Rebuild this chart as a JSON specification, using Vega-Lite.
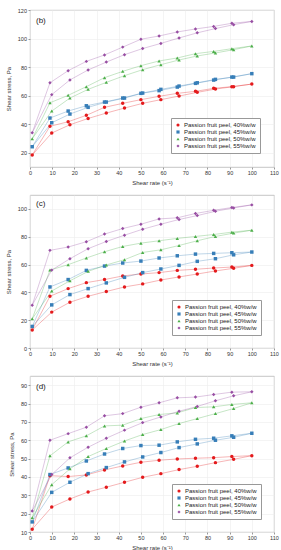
{
"$schema": "https://vega.github.io/schema/vega-lite/v6.json",
"padding": {"left": 4, "top": 7, "right": 8, "bottom": 0},
"spacing": 8,
"config": {
  "font": "Liberation Sans",
  "view": {"stroke": "#b8b8b8", "strokeWidth": 0.8},
  "axis": {"labelFontSize": 5.5, "titleFontSize": 6, "titleFontWeight": "normal", "tickSize": 2, "tickColor": "#999", "domain": false, "gridColor": "#ececec", "gridWidth": 0.6, "labelColor": "#333", "titleColor": "#333", "labelPadding": 1.5, "labelOverlap": false, "labelFlush": false},
  "axisY": {"titlePadding": 6},
  "axisX": {"titlePadding": 3},
  "legend": {"strokeColor": "#999", "fillColor": "white", "padding": 4, "symbolSize": 10, "labelFontSize": 6, "rowPadding": 1, "symbolStrokeWidth": 0, "labelColor": "#222", "labelOffset": 3}
},
"resolve": {"legend": {"color": "independent", "shape": "independent"}},
"datasets": {"flow": [
{"p":"b","s":"Passion fruit peel, 40%w/w","r":"u","x":1,"y":18.4},{"p":"b","s":"Passion fruit peel, 40%w/w","r":"u","x":9,"y":38.5},{"p":"b","s":"Passion fruit peel, 40%w/w","r":"u","x":17.2,"y":41.7},{"p":"b","s":"Passion fruit peel, 40%w/w","r":"u","x":25.4,"y":46.2},{"p":"b","s":"Passion fruit peel, 40%w/w","r":"u","x":33.6,"y":51.8},{"p":"b","s":"Passion fruit peel, 40%w/w","r":"u","x":41.8,"y":54.6},{"p":"b","s":"Passion fruit peel, 40%w/w","r":"u","x":50,"y":57.2},{"p":"b","s":"Passion fruit peel, 40%w/w","r":"u","x":58.2,"y":59.5},{"p":"b","s":"Passion fruit peel, 40%w/w","r":"u","x":66.4,"y":61.6},{"p":"b","s":"Passion fruit peel, 40%w/w","r":"u","x":74.6,"y":63},{"p":"b","s":"Passion fruit peel, 40%w/w","r":"u","x":82.8,"y":65.1},{"p":"b","s":"Passion fruit peel, 40%w/w","r":"u","x":91,"y":66.3},{"p":"b","s":"Passion fruit peel, 40%w/w","r":"u","x":100,"y":68.1},
{"p":"b","s":"Passion fruit peel, 40%w/w","r":"d","x":1,"y":18.4},{"p":"b","s":"Passion fruit peel, 40%w/w","r":"d","x":9.8,"y":33.8},{"p":"b","s":"Passion fruit peel, 40%w/w","r":"d","x":18,"y":39.6},{"p":"b","s":"Passion fruit peel, 40%w/w","r":"d","x":26.2,"y":44},{"p":"b","s":"Passion fruit peel, 40%w/w","r":"d","x":34.4,"y":47.8},{"p":"b","s":"Passion fruit peel, 40%w/w","r":"d","x":42.6,"y":51.3},{"p":"b","s":"Passion fruit peel, 40%w/w","r":"d","x":50.8,"y":54.6},{"p":"b","s":"Passion fruit peel, 40%w/w","r":"d","x":59,"y":57.2},{"p":"b","s":"Passion fruit peel, 40%w/w","r":"d","x":67.2,"y":59.7},{"p":"b","s":"Passion fruit peel, 40%w/w","r":"d","x":75.4,"y":62.3},{"p":"b","s":"Passion fruit peel, 40%w/w","r":"d","x":83.6,"y":64.6},{"p":"b","s":"Passion fruit peel, 40%w/w","r":"d","x":91.8,"y":66.3},{"p":"b","s":"Passion fruit peel, 40%w/w","r":"d","x":100,"y":68.1},
{"p":"b","s":"Passion fruit peel, 45%w/w","r":"u","x":1,"y":24.2},{"p":"b","s":"Passion fruit peel, 45%w/w","r":"u","x":9,"y":44.3},{"p":"b","s":"Passion fruit peel, 45%w/w","r":"u","x":17.2,"y":49.2},{"p":"b","s":"Passion fruit peel, 45%w/w","r":"u","x":25.4,"y":52.9},{"p":"b","s":"Passion fruit peel, 45%w/w","r":"u","x":33.6,"y":55.5},{"p":"b","s":"Passion fruit peel, 45%w/w","r":"u","x":41.8,"y":58.3},{"p":"b","s":"Passion fruit peel, 45%w/w","r":"u","x":50,"y":61.6},{"p":"b","s":"Passion fruit peel, 45%w/w","r":"u","x":58.2,"y":63.5},{"p":"b","s":"Passion fruit peel, 45%w/w","r":"u","x":66.4,"y":66},{"p":"b","s":"Passion fruit peel, 45%w/w","r":"u","x":74.6,"y":68.6},{"p":"b","s":"Passion fruit peel, 45%w/w","r":"u","x":82.8,"y":70.9},{"p":"b","s":"Passion fruit peel, 45%w/w","r":"u","x":91,"y":73},{"p":"b","s":"Passion fruit peel, 45%w/w","r":"u","x":100,"y":75.4},
{"p":"b","s":"Passion fruit peel, 45%w/w","r":"d","x":1,"y":24.2},{"p":"b","s":"Passion fruit peel, 45%w/w","r":"d","x":9.8,"y":41},{"p":"b","s":"Passion fruit peel, 45%w/w","r":"d","x":18,"y":47.1},{"p":"b","s":"Passion fruit peel, 45%w/w","r":"d","x":26.2,"y":51.8},{"p":"b","s":"Passion fruit peel, 45%w/w","r":"d","x":34.4,"y":55.5},{"p":"b","s":"Passion fruit peel, 45%w/w","r":"d","x":42.6,"y":58.3},{"p":"b","s":"Passion fruit peel, 45%w/w","r":"d","x":50.8,"y":61.8},{"p":"b","s":"Passion fruit peel, 45%w/w","r":"d","x":59,"y":64.4},{"p":"b","s":"Passion fruit peel, 45%w/w","r":"d","x":67.2,"y":66.7},{"p":"b","s":"Passion fruit peel, 45%w/w","r":"d","x":75.4,"y":69},{"p":"b","s":"Passion fruit peel, 45%w/w","r":"d","x":83.6,"y":71.4},{"p":"b","s":"Passion fruit peel, 45%w/w","r":"d","x":91.8,"y":73},{"p":"b","s":"Passion fruit peel, 45%w/w","r":"d","x":100,"y":75.4},
{"p":"b","s":"Passion fruit peel, 50%w/w","r":"u","x":1,"y":29.8},{"p":"b","s":"Passion fruit peel, 50%w/w","r":"u","x":9,"y":55},{"p":"b","s":"Passion fruit peel, 50%w/w","r":"u","x":17.2,"y":60.2},{"p":"b","s":"Passion fruit peel, 50%w/w","r":"u","x":25.4,"y":66.3},{"p":"b","s":"Passion fruit peel, 50%w/w","r":"u","x":33.6,"y":72.6},{"p":"b","s":"Passion fruit peel, 50%w/w","r":"u","x":41.8,"y":77},{"p":"b","s":"Passion fruit peel, 50%w/w","r":"u","x":50,"y":81},{"p":"b","s":"Passion fruit peel, 50%w/w","r":"u","x":58.2,"y":84.3},{"p":"b","s":"Passion fruit peel, 50%w/w","r":"u","x":66.4,"y":86.4},{"p":"b","s":"Passion fruit peel, 50%w/w","r":"u","x":74.6,"y":89.4},{"p":"b","s":"Passion fruit peel, 50%w/w","r":"u","x":82.8,"y":91},{"p":"b","s":"Passion fruit peel, 50%w/w","r":"u","x":91,"y":92.9},{"p":"b","s":"Passion fruit peel, 50%w/w","r":"u","x":100,"y":94.8},
{"p":"b","s":"Passion fruit peel, 50%w/w","r":"d","x":1,"y":29.8},{"p":"b","s":"Passion fruit peel, 50%w/w","r":"d","x":9.8,"y":49.2},{"p":"b","s":"Passion fruit peel, 50%w/w","r":"d","x":18,"y":58.3},{"p":"b","s":"Passion fruit peel, 50%w/w","r":"d","x":26.2,"y":64.4},{"p":"b","s":"Passion fruit peel, 50%w/w","r":"d","x":34.4,"y":69.3},{"p":"b","s":"Passion fruit peel, 50%w/w","r":"d","x":42.6,"y":74},{"p":"b","s":"Passion fruit peel, 50%w/w","r":"d","x":50.8,"y":78.2},{"p":"b","s":"Passion fruit peel, 50%w/w","r":"d","x":59,"y":81.7},{"p":"b","s":"Passion fruit peel, 50%w/w","r":"d","x":67.2,"y":85},{"p":"b","s":"Passion fruit peel, 50%w/w","r":"d","x":75.4,"y":87.8},{"p":"b","s":"Passion fruit peel, 50%w/w","r":"d","x":83.6,"y":89.9},{"p":"b","s":"Passion fruit peel, 50%w/w","r":"d","x":91.8,"y":92.2},{"p":"b","s":"Passion fruit peel, 50%w/w","r":"d","x":100,"y":94.8},
{"p":"b","s":"Passion fruit peel, 55%w/w","r":"u","x":1,"y":34},{"p":"b","s":"Passion fruit peel, 55%w/w","r":"u","x":9,"y":69},{"p":"b","s":"Passion fruit peel, 55%w/w","r":"u","x":17.2,"y":77.5},{"p":"b","s":"Passion fruit peel, 55%w/w","r":"u","x":25.4,"y":84},{"p":"b","s":"Passion fruit peel, 55%w/w","r":"u","x":33.6,"y":88.5},{"p":"b","s":"Passion fruit peel, 55%w/w","r":"u","x":41.8,"y":94},{"p":"b","s":"Passion fruit peel, 55%w/w","r":"u","x":50,"y":99.5},{"p":"b","s":"Passion fruit peel, 55%w/w","r":"u","x":58.2,"y":101.8},{"p":"b","s":"Passion fruit peel, 55%w/w","r":"u","x":66.4,"y":104.6},{"p":"b","s":"Passion fruit peel, 55%w/w","r":"u","x":74.6,"y":106.7},{"p":"b","s":"Passion fruit peel, 55%w/w","r":"u","x":82.8,"y":108.5},{"p":"b","s":"Passion fruit peel, 55%w/w","r":"u","x":91,"y":110.7},{"p":"b","s":"Passion fruit peel, 55%w/w","r":"u","x":100,"y":112},
{"p":"b","s":"Passion fruit peel, 55%w/w","r":"d","x":1,"y":34},{"p":"b","s":"Passion fruit peel, 55%w/w","r":"d","x":9.8,"y":60.7},{"p":"b","s":"Passion fruit peel, 55%w/w","r":"d","x":18,"y":71},{"p":"b","s":"Passion fruit peel, 55%w/w","r":"d","x":26.2,"y":78},{"p":"b","s":"Passion fruit peel, 55%w/w","r":"d","x":34.4,"y":83.5},{"p":"b","s":"Passion fruit peel, 55%w/w","r":"d","x":42.6,"y":88.7},{"p":"b","s":"Passion fruit peel, 55%w/w","r":"d","x":50.8,"y":93},{"p":"b","s":"Passion fruit peel, 55%w/w","r":"d","x":59,"y":96.6},{"p":"b","s":"Passion fruit peel, 55%w/w","r":"d","x":67.2,"y":100.4},{"p":"b","s":"Passion fruit peel, 55%w/w","r":"d","x":75.4,"y":104},{"p":"b","s":"Passion fruit peel, 55%w/w","r":"d","x":83.6,"y":107},{"p":"b","s":"Passion fruit peel, 55%w/w","r":"d","x":91.8,"y":109.7},{"p":"b","s":"Passion fruit peel, 55%w/w","r":"d","x":100,"y":112},

{"p":"c","s":"Passion fruit peel, 40%w/w","r":"u","x":1,"y":12.9},{"p":"c","s":"Passion fruit peel, 40%w/w","r":"u","x":9,"y":37.2},{"p":"c","s":"Passion fruit peel, 40%w/w","r":"u","x":17.2,"y":42.7},{"p":"c","s":"Passion fruit peel, 40%w/w","r":"u","x":25.4,"y":47},{"p":"c","s":"Passion fruit peel, 40%w/w","r":"u","x":33.6,"y":49.2},{"p":"c","s":"Passion fruit peel, 40%w/w","r":"u","x":41.8,"y":51.8},{"p":"c","s":"Passion fruit peel, 40%w/w","r":"u","x":50,"y":53.2},{"p":"c","s":"Passion fruit peel, 40%w/w","r":"u","x":58.2,"y":54.2},{"p":"c","s":"Passion fruit peel, 40%w/w","r":"u","x":66.4,"y":55.8},{"p":"c","s":"Passion fruit peel, 40%w/w","r":"u","x":74.6,"y":56.6},{"p":"c","s":"Passion fruit peel, 40%w/w","r":"u","x":82.8,"y":57.5},{"p":"c","s":"Passion fruit peel, 40%w/w","r":"u","x":91,"y":58.2},{"p":"c","s":"Passion fruit peel, 40%w/w","r":"u","x":100,"y":59.4},
{"p":"c","s":"Passion fruit peel, 40%w/w","r":"d","x":1,"y":12.9},{"p":"c","s":"Passion fruit peel, 40%w/w","r":"d","x":9.8,"y":25.8},{"p":"c","s":"Passion fruit peel, 40%w/w","r":"d","x":18,"y":32.9},{"p":"c","s":"Passion fruit peel, 40%w/w","r":"d","x":26.2,"y":37.2},{"p":"c","s":"Passion fruit peel, 40%w/w","r":"d","x":34.4,"y":40.6},{"p":"c","s":"Passion fruit peel, 40%w/w","r":"d","x":42.6,"y":43.9},{"p":"c","s":"Passion fruit peel, 40%w/w","r":"d","x":50.8,"y":46.1},{"p":"c","s":"Passion fruit peel, 40%w/w","r":"d","x":59,"y":48.9},{"p":"c","s":"Passion fruit peel, 40%w/w","r":"d","x":67.2,"y":51.1},{"p":"c","s":"Passion fruit peel, 40%w/w","r":"d","x":75.4,"y":53.2},{"p":"c","s":"Passion fruit peel, 40%w/w","r":"d","x":83.6,"y":55.4},{"p":"c","s":"Passion fruit peel, 40%w/w","r":"d","x":91.8,"y":57.3},{"p":"c","s":"Passion fruit peel, 40%w/w","r":"d","x":100,"y":59.4},
{"p":"c","s":"Passion fruit peel, 45%w/w","r":"u","x":1,"y":15.5},{"p":"c","s":"Passion fruit peel, 45%w/w","r":"u","x":9,"y":43.9},{"p":"c","s":"Passion fruit peel, 45%w/w","r":"u","x":17.2,"y":49.2},{"p":"c","s":"Passion fruit peel, 45%w/w","r":"u","x":25.4,"y":55.8},{"p":"c","s":"Passion fruit peel, 45%w/w","r":"u","x":33.6,"y":58.9},{"p":"c","s":"Passion fruit peel, 45%w/w","r":"u","x":41.8,"y":61.1},{"p":"c","s":"Passion fruit peel, 45%w/w","r":"u","x":50,"y":62.5},{"p":"c","s":"Passion fruit peel, 45%w/w","r":"u","x":58.2,"y":64.7},{"p":"c","s":"Passion fruit peel, 45%w/w","r":"u","x":66.4,"y":66.3},{"p":"c","s":"Passion fruit peel, 45%w/w","r":"u","x":74.6,"y":67.5},{"p":"c","s":"Passion fruit peel, 45%w/w","r":"u","x":82.8,"y":68},{"p":"c","s":"Passion fruit peel, 45%w/w","r":"u","x":91,"y":68.5},{"p":"c","s":"Passion fruit peel, 45%w/w","r":"u","x":100,"y":69},
{"p":"c","s":"Passion fruit peel, 45%w/w","r":"d","x":1,"y":15.5},{"p":"c","s":"Passion fruit peel, 45%w/w","r":"d","x":9.8,"y":31},{"p":"c","s":"Passion fruit peel, 45%w/w","r":"d","x":18,"y":38.4},{"p":"c","s":"Passion fruit peel, 45%w/w","r":"d","x":26.2,"y":42.7},{"p":"c","s":"Passion fruit peel, 45%w/w","r":"d","x":34.4,"y":46.8},{"p":"c","s":"Passion fruit peel, 45%w/w","r":"d","x":42.6,"y":50.8},{"p":"c","s":"Passion fruit peel, 45%w/w","r":"d","x":50.8,"y":54.2},{"p":"c","s":"Passion fruit peel, 45%w/w","r":"d","x":59,"y":56.8},{"p":"c","s":"Passion fruit peel, 45%w/w","r":"d","x":67.2,"y":59.4},{"p":"c","s":"Passion fruit peel, 45%w/w","r":"d","x":75.4,"y":62.3},{"p":"c","s":"Passion fruit peel, 45%w/w","r":"d","x":83.6,"y":64.2},{"p":"c","s":"Passion fruit peel, 45%w/w","r":"d","x":91.8,"y":67},{"p":"c","s":"Passion fruit peel, 45%w/w","r":"d","x":100,"y":69},
{"p":"c","s":"Passion fruit peel, 50%w/w","r":"u","x":1,"y":21},{"p":"c","s":"Passion fruit peel, 50%w/w","r":"u","x":9,"y":56},{"p":"c","s":"Passion fruit peel, 50%w/w","r":"u","x":17.2,"y":59.9},{"p":"c","s":"Passion fruit peel, 50%w/w","r":"u","x":25.4,"y":64.7},{"p":"c","s":"Passion fruit peel, 50%w/w","r":"u","x":33.6,"y":69.2},{"p":"c","s":"Passion fruit peel, 50%w/w","r":"u","x":41.8,"y":73},{"p":"c","s":"Passion fruit peel, 50%w/w","r":"u","x":50,"y":75.4},{"p":"c","s":"Passion fruit peel, 50%w/w","r":"u","x":58.2,"y":77.1},{"p":"c","s":"Passion fruit peel, 50%w/w","r":"u","x":66.4,"y":78.8},{"p":"c","s":"Passion fruit peel, 50%w/w","r":"u","x":74.6,"y":80.2},{"p":"c","s":"Passion fruit peel, 50%w/w","r":"u","x":82.8,"y":81.6},{"p":"c","s":"Passion fruit peel, 50%w/w","r":"u","x":91,"y":83.3},{"p":"c","s":"Passion fruit peel, 50%w/w","r":"u","x":100,"y":84.7},
{"p":"c","s":"Passion fruit peel, 50%w/w","r":"d","x":1,"y":21},{"p":"c","s":"Passion fruit peel, 50%w/w","r":"d","x":9.8,"y":41},{"p":"c","s":"Passion fruit peel, 50%w/w","r":"d","x":18,"y":48.3},{"p":"c","s":"Passion fruit peel, 50%w/w","r":"d","x":26.2,"y":55.1},{"p":"c","s":"Passion fruit peel, 50%w/w","r":"d","x":34.4,"y":59.7},{"p":"c","s":"Passion fruit peel, 50%w/w","r":"d","x":42.6,"y":63.5},{"p":"c","s":"Passion fruit peel, 50%w/w","r":"d","x":50.8,"y":68.7},{"p":"c","s":"Passion fruit peel, 50%w/w","r":"d","x":59,"y":70.6},{"p":"c","s":"Passion fruit peel, 50%w/w","r":"d","x":67.2,"y":73.7},{"p":"c","s":"Passion fruit peel, 50%w/w","r":"d","x":75.4,"y":77.1},{"p":"c","s":"Passion fruit peel, 50%w/w","r":"d","x":83.6,"y":80.2},{"p":"c","s":"Passion fruit peel, 50%w/w","r":"d","x":91.8,"y":82.6},{"p":"c","s":"Passion fruit peel, 50%w/w","r":"d","x":100,"y":84.7},
{"p":"c","s":"Passion fruit peel, 55%w/w","r":"u","x":1,"y":30.8},{"p":"c","s":"Passion fruit peel, 55%w/w","r":"u","x":9,"y":70.2},{"p":"c","s":"Passion fruit peel, 55%w/w","r":"u","x":17.2,"y":72.6},{"p":"c","s":"Passion fruit peel, 55%w/w","r":"u","x":25.4,"y":76.4},{"p":"c","s":"Passion fruit peel, 55%w/w","r":"u","x":33.6,"y":81.9},{"p":"c","s":"Passion fruit peel, 55%w/w","r":"u","x":41.8,"y":85.9},{"p":"c","s":"Passion fruit peel, 55%w/w","r":"u","x":50,"y":89},{"p":"c","s":"Passion fruit peel, 55%w/w","r":"u","x":58.2,"y":92.8},{"p":"c","s":"Passion fruit peel, 55%w/w","r":"u","x":66.4,"y":93.6},{"p":"c","s":"Passion fruit peel, 55%w/w","r":"u","x":74.6,"y":96.7},{"p":"c","s":"Passion fruit peel, 55%w/w","r":"u","x":82.8,"y":99},{"p":"c","s":"Passion fruit peel, 55%w/w","r":"u","x":91,"y":101},{"p":"c","s":"Passion fruit peel, 55%w/w","r":"u","x":100,"y":102.9},
{"p":"c","s":"Passion fruit peel, 55%w/w","r":"d","x":1,"y":30.8},{"p":"c","s":"Passion fruit peel, 55%w/w","r":"d","x":9.8,"y":56},{"p":"c","s":"Passion fruit peel, 55%w/w","r":"d","x":18,"y":64.2},{"p":"c","s":"Passion fruit peel, 55%w/w","r":"d","x":26.2,"y":71.4},{"p":"c","s":"Passion fruit peel, 55%w/w","r":"d","x":34.4,"y":76.6},{"p":"c","s":"Passion fruit peel, 55%w/w","r":"d","x":42.6,"y":81.1},{"p":"c","s":"Passion fruit peel, 55%w/w","r":"d","x":50.8,"y":85.4},{"p":"c","s":"Passion fruit peel, 55%w/w","r":"d","x":59,"y":89},{"p":"c","s":"Passion fruit peel, 55%w/w","r":"d","x":67.2,"y":92.4},{"p":"c","s":"Passion fruit peel, 55%w/w","r":"d","x":75.4,"y":95.2},{"p":"c","s":"Passion fruit peel, 55%w/w","r":"d","x":83.6,"y":98.3},{"p":"c","s":"Passion fruit peel, 55%w/w","r":"d","x":91.8,"y":100.7},{"p":"c","s":"Passion fruit peel, 55%w/w","r":"d","x":100,"y":102.9},

{"p":"d","s":"Passion fruit peel, 40%w/w","r":"u","x":1,"y":11.5},{"p":"d","s":"Passion fruit peel, 40%w/w","r":"u","x":9,"y":40.7},{"p":"d","s":"Passion fruit peel, 40%w/w","r":"u","x":17.2,"y":40.2},{"p":"d","s":"Passion fruit peel, 40%w/w","r":"u","x":25.4,"y":41.1},{"p":"d","s":"Passion fruit peel, 40%w/w","r":"u","x":33.6,"y":43.8},{"p":"d","s":"Passion fruit peel, 40%w/w","r":"u","x":41.8,"y":46},{"p":"d","s":"Passion fruit peel, 40%w/w","r":"u","x":50,"y":48},{"p":"d","s":"Passion fruit peel, 40%w/w","r":"u","x":58.2,"y":49.1},{"p":"d","s":"Passion fruit peel, 40%w/w","r":"u","x":66.4,"y":49.8},{"p":"d","s":"Passion fruit peel, 40%w/w","r":"u","x":74.6,"y":50.2},{"p":"d","s":"Passion fruit peel, 40%w/w","r":"u","x":82.8,"y":50.5},{"p":"d","s":"Passion fruit peel, 40%w/w","r":"u","x":91,"y":51.1},{"p":"d","s":"Passion fruit peel, 40%w/w","r":"u","x":100,"y":51.6},
{"p":"d","s":"Passion fruit peel, 40%w/w","r":"d","x":1,"y":11.5},{"p":"d","s":"Passion fruit peel, 40%w/w","r":"d","x":9.8,"y":23.6},{"p":"d","s":"Passion fruit peel, 40%w/w","r":"d","x":18,"y":28},{"p":"d","s":"Passion fruit peel, 40%w/w","r":"d","x":26.2,"y":31.8},{"p":"d","s":"Passion fruit peel, 40%w/w","r":"d","x":34.4,"y":34.4},{"p":"d","s":"Passion fruit peel, 40%w/w","r":"d","x":42.6,"y":37.1},{"p":"d","s":"Passion fruit peel, 40%w/w","r":"d","x":50.8,"y":39.8},{"p":"d","s":"Passion fruit peel, 40%w/w","r":"d","x":59,"y":41.8},{"p":"d","s":"Passion fruit peel, 40%w/w","r":"d","x":67.2,"y":44},{"p":"d","s":"Passion fruit peel, 40%w/w","r":"d","x":75.4,"y":45.8},{"p":"d","s":"Passion fruit peel, 40%w/w","r":"d","x":83.6,"y":47.8},{"p":"d","s":"Passion fruit peel, 40%w/w","r":"d","x":91.8,"y":49.6},{"p":"d","s":"Passion fruit peel, 40%w/w","r":"d","x":100,"y":51.6},
{"p":"d","s":"Passion fruit peel, 45%w/w","r":"u","x":1,"y":15.5},{"p":"d","s":"Passion fruit peel, 45%w/w","r":"u","x":9,"y":41.3},{"p":"d","s":"Passion fruit peel, 45%w/w","r":"u","x":17.2,"y":44.9},{"p":"d","s":"Passion fruit peel, 45%w/w","r":"u","x":25.4,"y":48.7},{"p":"d","s":"Passion fruit peel, 45%w/w","r":"u","x":33.6,"y":52.5},{"p":"d","s":"Passion fruit peel, 45%w/w","r":"u","x":41.8,"y":55.5},{"p":"d","s":"Passion fruit peel, 45%w/w","r":"u","x":50,"y":57.1},{"p":"d","s":"Passion fruit peel, 45%w/w","r":"u","x":58.2,"y":57.3},{"p":"d","s":"Passion fruit peel, 45%w/w","r":"u","x":66.4,"y":59.1},{"p":"d","s":"Passion fruit peel, 45%w/w","r":"u","x":74.6,"y":60.5},{"p":"d","s":"Passion fruit peel, 45%w/w","r":"u","x":82.8,"y":61.1},{"p":"d","s":"Passion fruit peel, 45%w/w","r":"u","x":91,"y":62.4},{"p":"d","s":"Passion fruit peel, 45%w/w","r":"u","x":100,"y":63.8},
{"p":"d","s":"Passion fruit peel, 45%w/w","r":"d","x":1,"y":15.5},{"p":"d","s":"Passion fruit peel, 45%w/w","r":"d","x":9.8,"y":31.6},{"p":"d","s":"Passion fruit peel, 45%w/w","r":"d","x":18,"y":37.1},{"p":"d","s":"Passion fruit peel, 45%w/w","r":"d","x":26.2,"y":41.8},{"p":"d","s":"Passion fruit peel, 45%w/w","r":"d","x":34.4,"y":45.1},{"p":"d","s":"Passion fruit peel, 45%w/w","r":"d","x":42.6,"y":48.2},{"p":"d","s":"Passion fruit peel, 45%w/w","r":"d","x":50.8,"y":50.9},{"p":"d","s":"Passion fruit peel, 45%w/w","r":"d","x":59,"y":53.3},{"p":"d","s":"Passion fruit peel, 45%w/w","r":"d","x":67.2,"y":56},{"p":"d","s":"Passion fruit peel, 45%w/w","r":"d","x":75.4,"y":58},{"p":"d","s":"Passion fruit peel, 45%w/w","r":"d","x":83.6,"y":60},{"p":"d","s":"Passion fruit peel, 45%w/w","r":"d","x":91.8,"y":61.6},{"p":"d","s":"Passion fruit peel, 45%w/w","r":"d","x":100,"y":63.8},
{"p":"d","s":"Passion fruit peel, 50%w/w","r":"u","x":1,"y":17.8},{"p":"d","s":"Passion fruit peel, 50%w/w","r":"u","x":9,"y":51.5},{"p":"d","s":"Passion fruit peel, 50%w/w","r":"u","x":17.2,"y":59.1},{"p":"d","s":"Passion fruit peel, 50%w/w","r":"u","x":25.4,"y":62.4},{"p":"d","s":"Passion fruit peel, 50%w/w","r":"u","x":33.6,"y":67.8},{"p":"d","s":"Passion fruit peel, 50%w/w","r":"u","x":41.8,"y":68.2},{"p":"d","s":"Passion fruit peel, 50%w/w","r":"u","x":50,"y":71.8},{"p":"d","s":"Passion fruit peel, 50%w/w","r":"u","x":58.2,"y":74},{"p":"d","s":"Passion fruit peel, 50%w/w","r":"u","x":66.4,"y":74.9},{"p":"d","s":"Passion fruit peel, 50%w/w","r":"u","x":74.6,"y":77.8},{"p":"d","s":"Passion fruit peel, 50%w/w","r":"u","x":82.8,"y":78.2},{"p":"d","s":"Passion fruit peel, 50%w/w","r":"u","x":91,"y":79.5},{"p":"d","s":"Passion fruit peel, 50%w/w","r":"u","x":100,"y":80.4},
{"p":"d","s":"Passion fruit peel, 50%w/w","r":"d","x":1,"y":17.8},{"p":"d","s":"Passion fruit peel, 50%w/w","r":"d","x":9.8,"y":35.8},{"p":"d","s":"Passion fruit peel, 50%w/w","r":"d","x":18,"y":44.4},{"p":"d","s":"Passion fruit peel, 50%w/w","r":"d","x":26.2,"y":51.1},{"p":"d","s":"Passion fruit peel, 50%w/w","r":"d","x":34.4,"y":55.5},{"p":"d","s":"Passion fruit peel, 50%w/w","r":"d","x":42.6,"y":59.6},{"p":"d","s":"Passion fruit peel, 50%w/w","r":"d","x":50.8,"y":63.1},{"p":"d","s":"Passion fruit peel, 50%w/w","r":"d","x":59,"y":65.8},{"p":"d","s":"Passion fruit peel, 50%w/w","r":"d","x":67.2,"y":69.1},{"p":"d","s":"Passion fruit peel, 50%w/w","r":"d","x":75.4,"y":71.8},{"p":"d","s":"Passion fruit peel, 50%w/w","r":"d","x":83.6,"y":74.5},{"p":"d","s":"Passion fruit peel, 50%w/w","r":"d","x":91.8,"y":77.3},{"p":"d","s":"Passion fruit peel, 50%w/w","r":"d","x":100,"y":80.4},
{"p":"d","s":"Passion fruit peel, 55%w/w","r":"u","x":1,"y":21.5},{"p":"d","s":"Passion fruit peel, 55%w/w","r":"u","x":9,"y":60},{"p":"d","s":"Passion fruit peel, 55%w/w","r":"u","x":17.2,"y":63.6},{"p":"d","s":"Passion fruit peel, 55%w/w","r":"u","x":25.4,"y":67.1},{"p":"d","s":"Passion fruit peel, 55%w/w","r":"u","x":33.6,"y":73.3},{"p":"d","s":"Passion fruit peel, 55%w/w","r":"u","x":41.8,"y":74.5},{"p":"d","s":"Passion fruit peel, 55%w/w","r":"u","x":50,"y":78},{"p":"d","s":"Passion fruit peel, 55%w/w","r":"u","x":58.2,"y":80.4},{"p":"d","s":"Passion fruit peel, 55%w/w","r":"u","x":66.4,"y":83.1},{"p":"d","s":"Passion fruit peel, 55%w/w","r":"u","x":74.6,"y":83.5},{"p":"d","s":"Passion fruit peel, 55%w/w","r":"u","x":82.8,"y":84.9},{"p":"d","s":"Passion fruit peel, 55%w/w","r":"u","x":91,"y":86.2},{"p":"d","s":"Passion fruit peel, 55%w/w","r":"u","x":100,"y":86.4},
{"p":"d","s":"Passion fruit peel, 55%w/w","r":"d","x":1,"y":21.5},{"p":"d","s":"Passion fruit peel, 55%w/w","r":"d","x":9.8,"y":41.3},{"p":"d","s":"Passion fruit peel, 55%w/w","r":"d","x":18,"y":50.4},{"p":"d","s":"Passion fruit peel, 55%w/w","r":"d","x":26.2,"y":56.2},{"p":"d","s":"Passion fruit peel, 55%w/w","r":"d","x":34.4,"y":61.1},{"p":"d","s":"Passion fruit peel, 55%w/w","r":"d","x":42.6,"y":65.5},{"p":"d","s":"Passion fruit peel, 55%w/w","r":"d","x":50.8,"y":69.6},{"p":"d","s":"Passion fruit peel, 55%w/w","r":"d","x":59,"y":72.7},{"p":"d","s":"Passion fruit peel, 55%w/w","r":"d","x":67.2,"y":75.8},{"p":"d","s":"Passion fruit peel, 55%w/w","r":"d","x":75.4,"y":78.4},{"p":"d","s":"Passion fruit peel, 55%w/w","r":"d","x":83.6,"y":81.5},{"p":"d","s":"Passion fruit peel, 55%w/w","r":"d","x":91.8,"y":84.2},{"p":"d","s":"Passion fruit peel, 55%w/w","r":"d","x":100,"y":86.4}
]},
"vconcat": [
{
  "width": 244, "height": 157,
  "layer": [
    {"data": {"name": "flow"}, "transform": [{"filter": "datum.p == 'b'"}],
     "mark": {"type": "line", "strokeWidth": 0.8, "opacity": 0.4},
     "encoding": {
       "x": {"field": "x", "type": "quantitative", "scale": {"domain": [0, 110], "nice": false}, "axis": {"values": [0,10,20,30,40,50,60,70,80,90,100,110], "title": "Shear rate (s⁻¹)", "labelOverlap": false}},
       "y": {"field": "y", "type": "quantitative", "scale": {"domain": [10, 120], "nice": false}, "axis": {"values": [20,40,60,80,100,120], "title": "Shear stress, Pa", "labelOverlap": false}},
       "stroke": {"field": "s", "type": "nominal", "scale": {"range": ["#e41a1c", "#377eb8", "#4daf4a", "#984ea3"]}, "legend": null},
       "detail": {"field": "r"}
     }},
    {"data": {"name": "flow"}, "transform": [{"filter": "datum.p == 'b' && !(datum.r == 'd' && (datum.x == 1 || datum.x == 100))"}],
     "mark": {"type": "point", "filled": true, "size": 12, "opacity": 1},
     "encoding": {
       "x": {"field": "x", "type": "quantitative", "axis": {"values": [0,10,20,30,40,50,60,70,80,90,100,110], "title": "Shear rate (s⁻¹)", "labelOverlap": false}},
       "y": {"field": "y", "type": "quantitative", "axis": {"values": [20,40,60,80,100,120], "title": "Shear stress, Pa", "labelOverlap": false}},
       "color": {"field": "s", "type": "nominal", "scale": {"range": ["#e41a1c", "#377eb8", "#4daf4a", "#984ea3"]}, "legend": {"title": null, "orient": "bottom-right", "offset": 14}},
       "shape": {"field": "s", "type": "nominal", "scale": {"range": ["circle", "square", "triangle-up", "diamond"]}, "legend": {"title": null, "orient": "bottom-right", "offset": 14}}
     }},
    {"data": {"values": [{"label": "(b)", "lx": 2.7, "ly": 112.6}]},
     "mark": {"type": "text", "align": "left", "baseline": "middle", "fontSize": 8, "color": "#222"},
     "encoding": {
       "x": {"field": "lx", "type": "quantitative", "axis": {"values": [0,10,20,30,40,50,60,70,80,90,100,110], "title": "Shear rate (s⁻¹)", "labelOverlap": false}},
       "y": {"field": "ly", "type": "quantitative", "axis": {"values": [20,40,60,80,100,120], "title": "Shear stress, Pa", "labelOverlap": false}},
       "text": {"field": "label"}}}
  ]
},
{
  "width": 244, "height": 153,
  "layer": [
    {"data": {"name": "flow"}, "transform": [{"filter": "datum.p == 'c'"}],
     "mark": {"type": "line", "strokeWidth": 0.8, "opacity": 0.4},
     "encoding": {
       "x": {"field": "x", "type": "quantitative", "scale": {"domain": [0, 110], "nice": false}, "axis": {"values": [0,10,20,30,40,50,60,70,80,90,100,110], "title": "Shear rate (s⁻¹)", "labelOverlap": false}},
       "y": {"field": "y", "type": "quantitative", "scale": {"domain": [0, 110], "nice": false}, "axis": {"values": [0,20,40,60,80,100], "title": "Shear stress, Pa", "labelOverlap": false}},
       "stroke": {"field": "s", "type": "nominal", "scale": {"range": ["#e41a1c", "#377eb8", "#4daf4a", "#984ea3"]}, "legend": null},
       "detail": {"field": "r"}
     }},
    {"data": {"name": "flow"}, "transform": [{"filter": "datum.p == 'c' && !(datum.r == 'd' && (datum.x == 1 || datum.x == 100))"}],
     "mark": {"type": "point", "filled": true, "size": 12, "opacity": 1},
     "encoding": {
       "x": {"field": "x", "type": "quantitative", "axis": {"values": [0,10,20,30,40,50,60,70,80,90,100,110], "title": "Shear rate (s⁻¹)", "labelOverlap": false}},
       "y": {"field": "y", "type": "quantitative", "axis": {"values": [0,20,40,60,80,100], "title": "Shear stress, Pa", "labelOverlap": false}},
       "color": {"field": "s", "type": "nominal", "scale": {"range": ["#e41a1c", "#377eb8", "#4daf4a", "#984ea3"]}, "legend": {"title": null, "orient": "bottom-right", "offset": 13}},
       "shape": {"field": "s", "type": "nominal", "scale": {"range": ["circle", "square", "triangle-up", "diamond"]}, "legend": {"title": null, "orient": "bottom-right", "offset": 13}}
     }},
    {"data": {"values": [{"label": "(c)", "lx": 2.7, "ly": 103.3}]},
     "mark": {"type": "text", "align": "left", "baseline": "middle", "fontSize": 8, "color": "#222"},
     "encoding": {
       "x": {"field": "lx", "type": "quantitative", "axis": {"values": [0,10,20,30,40,50,60,70,80,90,100,110], "title": "Shear rate (s⁻¹)", "labelOverlap": false}},
       "y": {"field": "ly", "type": "quantitative", "axis": {"values": [0,20,40,60,80,100], "title": "Shear stress, Pa", "labelOverlap": false}},
       "text": {"field": "label"}}}
  ]
},
{
  "width": 244, "height": 156,
  "layer": [
    {"data": {"name": "flow"}, "transform": [{"filter": "datum.p == 'd'"}],
     "mark": {"type": "line", "strokeWidth": 0.8, "opacity": 0.4},
     "encoding": {
       "x": {"field": "x", "type": "quantitative", "scale": {"domain": [0, 110], "nice": false}, "axis": {"values": [0,10,20,30,40,50,60,70,80,90,100,110], "title": "Shear rate (s⁻¹)", "labelOverlap": false}},
       "y": {"field": "y", "type": "quantitative", "scale": {"domain": [10, 95], "nice": false}, "axis": {"values": [10,20,30,40,50,60,70,80,90], "title": "Shear stress, Pa", "labelOverlap": false}},
       "stroke": {"field": "s", "type": "nominal", "scale": {"range": ["#e41a1c", "#377eb8", "#4daf4a", "#984ea3"]}, "legend": null},
       "detail": {"field": "r"}
     }},
    {"data": {"name": "flow"}, "transform": [{"filter": "datum.p == 'd' && !(datum.r == 'd' && (datum.x == 1 || datum.x == 100))"}],
     "mark": {"type": "point", "filled": true, "size": 12, "opacity": 1},
     "encoding": {
       "x": {"field": "x", "type": "quantitative", "axis": {"values": [0,10,20,30,40,50,60,70,80,90,100,110], "title": "Shear rate (s⁻¹)", "labelOverlap": false}},
       "y": {"field": "y", "type": "quantitative", "axis": {"values": [10,20,30,40,50,60,70,80,90], "title": "Shear stress, Pa", "labelOverlap": false}},
       "color": {"field": "s", "type": "nominal", "scale": {"range": ["#e41a1c", "#377eb8", "#4daf4a", "#984ea3"]}, "legend": {"title": null, "orient": "bottom-right", "offset": 13}},
       "shape": {"field": "s", "type": "nominal", "scale": {"range": ["circle", "square", "triangle-up", "diamond"]}, "legend": {"title": null, "orient": "bottom-right", "offset": 13}}
     }},
    {"data": {"values": [{"label": "(d)", "lx": 2.7, "ly": 89}]},
     "mark": {"type": "text", "align": "left", "baseline": "middle", "fontSize": 8, "color": "#222"},
     "encoding": {
       "x": {"field": "lx", "type": "quantitative", "axis": {"values": [0,10,20,30,40,50,60,70,80,90,100,110], "title": "Shear rate (s⁻¹)", "labelOverlap": false}},
       "y": {"field": "ly", "type": "quantitative", "axis": {"values": [10,20,30,40,50,60,70,80,90], "title": "Shear stress, Pa", "labelOverlap": false}},
       "text": {"field": "label"}}}
  ]
}
]
}
